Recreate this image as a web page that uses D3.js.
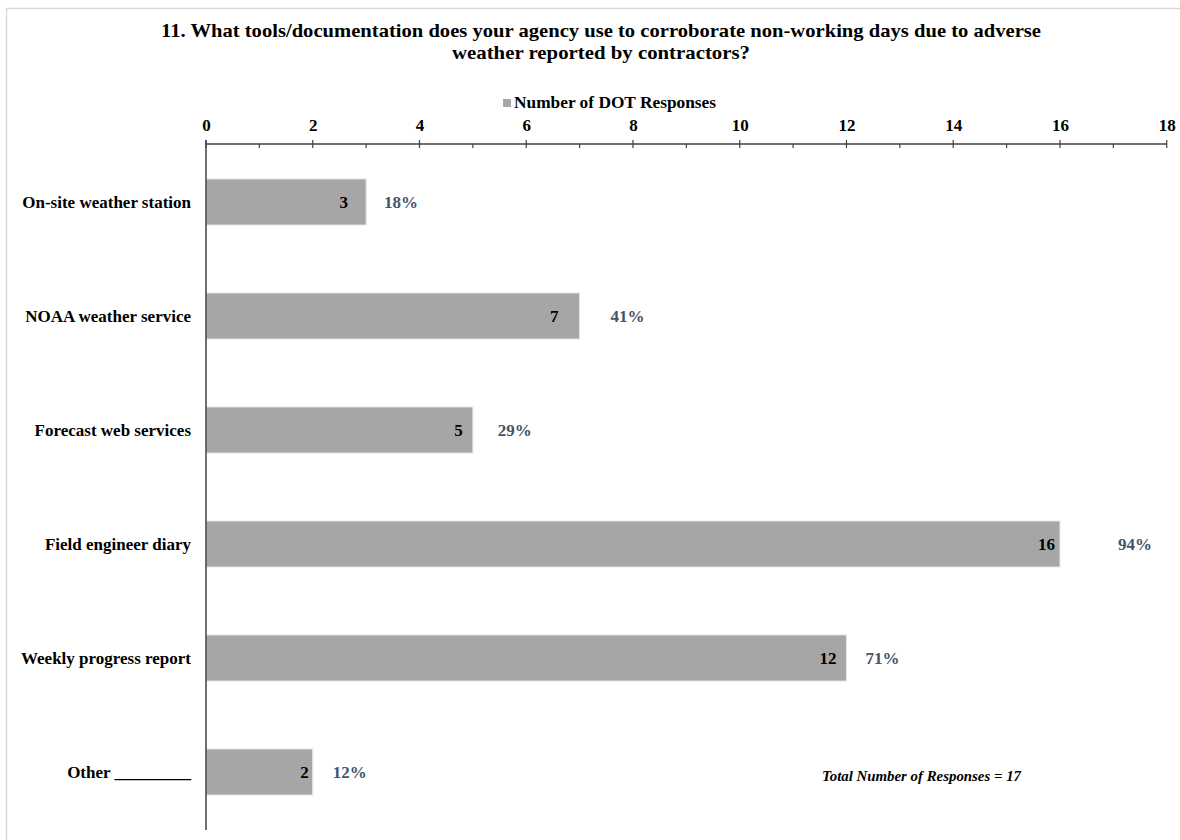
<!DOCTYPE html>
<html>
<head>
<meta charset="utf-8">
<script src="https://cdn.jsdelivr.net/npm/d3@7"></script>
<style>
  html, body { margin: 0; padding: 0; background: #ffffff; }
  svg text { font-family: "Liberation Serif", "Times New Roman", serif; }
</style>
</head>
<body>
<svg id="chart" width="1180" height="840"></svg>
<script>
// Survey question 11: tools used to corroborate weather-related non-working days
const categories = [
  "On-site weather station",
  "NOAA weather service",
  "Forecast web services",
  "Field engineer diary",
  "Weekly progress report",
  "Other _________"
];
const responses = [3, 7, 5, 16, 12, 2];
const totalResponses = 17;
const xTicks = [0, 2, 4, 6, 8, 10, 12, 14, 16, 18];
const titleLines = [
  "11. What tools/documentation does your agency use to corroborate non-working days due to adverse",
  "weather reported by contractors?"
];
const seriesName = "Number of DOT Responses";

// label placement tweaks (pixels), per row
const valueInset = [18, 21, 10, 5, 10, 4];
const pctGap = [18, 31, 25, 58, 19, 20];

const svg = d3.select("#chart");
const W = 1180, H = 840;

// light frame around the chart area
svg.append("rect")
  .attr("x", 6.5).attr("y", 8.5)
  .attr("width", W + 10).attr("height", H + 10)
  .attr("fill", "none").attr("stroke", "#d9d9d9").attr("stroke-width", 1.5);

const x = d3.scaleLinear().domain([0, 18]).range([206, 1166.7]);
const y = d3.scaleBand().domain(categories).range([145, 829]).paddingInner(0.596).paddingOuter(0.298);

// title
svg.append("g").selectAll("text").data(titleLines).join("text")
  .attr("x", 601).attr("y", (d, i) => 37 + i * 22)
  .attr("text-anchor", "middle")
  .attr("font-size", 19).attr("font-weight", "bold").attr("fill", "#000")
  .attr("textLength", (d, i) => i === 0 ? 880 : 298)
  .attr("lengthAdjust", "spacingAndGlyphs")
  .text(d => d);

// legend
const lg = svg.append("g");
lg.append("rect").attr("x", 503).attr("y", 99).attr("width", 8).attr("height", 8).attr("fill", "#a6a6a6");
lg.append("text").attr("x", 514).attr("y", 108)
  .attr("font-size", 17).attr("font-weight", "bold")
  .attr("textLength", 202).attr("lengthAdjust", "spacingAndGlyphs")
  .text(seriesName);

// top axis with major and minor ticks
const axisY = 144;
const axisG = svg.append("g").attr("transform", `translate(0,${axisY})`);
axisG.call(d3.axisTop(x).tickValues(xTicks).tickSize(0).tickPadding(0).tickFormat(d3.format("d")));
axisG.select(".domain").remove();
axisG.selectAll(".tick text")
  .attr("y", -13)
  .attr("font-size", 17).attr("font-weight", "bold").attr("fill", "#000")
  .attr("font-family", "Liberation Serif, Times New Roman, serif");
axisG.append("line").attr("x1", x(0)).attr("x2", x(18)).attr("y1", 0).attr("y2", 0)
  .attr("stroke", "#404040").attr("stroke-width", 1.5);
axisG.selectAll("line.major").data(xTicks).join("line").attr("class", "major")
  .attr("x1", d => x(d)).attr("x2", d => x(d)).attr("y1", -4).attr("y2", 4)
  .attr("stroke", "#404040").attr("stroke-width", 1.2);
axisG.selectAll("line.minor").data(d3.range(1, 18, 2)).join("line").attr("class", "minor")
  .attr("x1", d => x(d)).attr("x2", d => x(d)).attr("y1", 0).attr("y2", 4)
  .attr("stroke", "#404040").attr("stroke-width", 1.2);

// bars
svg.append("g").selectAll("rect").data(responses).join("rect")
  .attr("x", x(0))
  .attr("y", (d, i) => y(categories[i]))
  .attr("width", d => x(d) - x(0))
  .attr("height", y.bandwidth())
  .attr("fill", "#a6a6a6")
  .attr("stroke", "#e6e6e6").attr("stroke-width", 1);

// vertical category axis
svg.append("line").attr("x1", x(0)).attr("x2", x(0)).attr("y1", 140).attr("y2", 830)
  .attr("stroke", "#404040").attr("stroke-width", 1.5);

// category labels
svg.append("g").selectAll("text").data(categories).join("text")
  .attr("x", 191)
  .attr("y", d => y(d) + y.bandwidth() / 2 + 6)
  .attr("text-anchor", "end")
  .attr("font-size", 17).attr("font-weight", "bold").attr("fill", "#000")
  .text(d => d);

// value labels inside the bar end
svg.append("g").selectAll("text").data(responses).join("text")
  .attr("x", (d, i) => x(d) - valueInset[i])
  .attr("y", (d, i) => y(categories[i]) + y.bandwidth() / 2 + 6)
  .attr("text-anchor", "end")
  .attr("font-size", 17).attr("font-weight", "bold").attr("fill", "#000")
  .text(d => d);

// percentage of respondents
svg.append("g").selectAll("text").data(responses).join("text")
  .attr("x", (d, i) => x(d) + pctGap[i])
  .attr("y", (d, i) => y(categories[i]) + y.bandwidth() / 2 + 6)
  .attr("font-size", 17).attr("font-weight", "bold").attr("fill", "#44546a")
  .text(d => Math.round(d / totalResponses * 100) + "%");

// footnote
svg.append("text").attr("x", 822).attr("y", 781)
  .attr("font-size", 14).attr("font-weight", "bold").attr("font-style", "italic")
  .attr("textLength", 199).attr("lengthAdjust", "spacingAndGlyphs")
  .text("Total Number of Responses  = " + totalResponses);
</script>
</body>
</html>
